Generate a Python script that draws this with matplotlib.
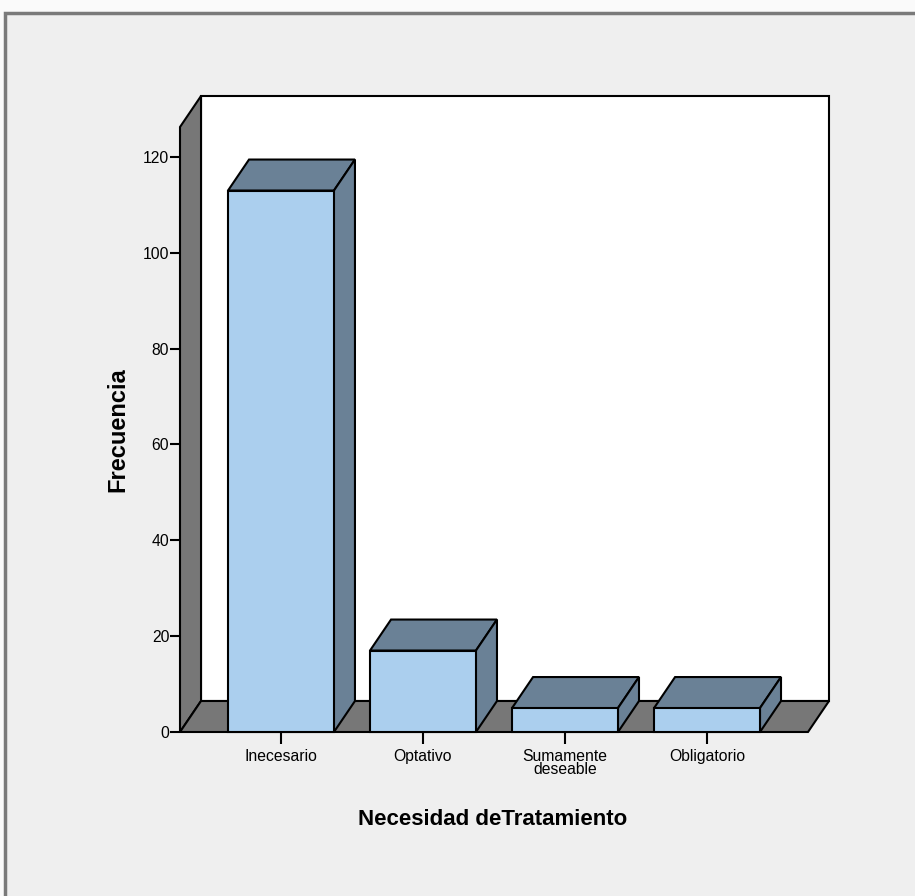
import numpy as np
import matplotlib.pyplot as plt
from matplotlib import font_manager
from matplotlib.patches import Rectangle, Polygon

# Datos
categorias = ["Inecesario", "Optativo", "Sumamente\ndeseable", "Obligatorio"]
frecuencias = [113, 17, 5, 5]
yticks = [0, 20, 40, 60, 80, 100, 120]

# fuente estrecha si existe, si no la normal con tamaños menores
familias = {f.name for f in font_manager.fontManager.ttflist}
if "Liberation Sans Narrow" in familias:
    plt.rcParams["font.family"] = ["Liberation Sans Narrow", "DejaVu Sans"]
    t_ticks, t_xlab, t_ylab = 13, 19, 19
else:
    plt.rcParams["font.family"] = ["Liberation Sans", "DejaVu Sans"]
    t_ticks, t_xlab, t_ylab = 11.3, 16, 17

W, H = 915, 896
fig = plt.figure(figsize=(W / 100, H / 100), dpi=100, facecolor="#fafafa")

# marco gris del visor
fig.patches.append(Rectangle((5 / W, -0.02), 1.0, (H - 13) / H + 0.02,
                             transform=fig.transFigure, facecolor="#efefef",
                             edgecolor="#7a7a7a", linewidth=2.5, zorder=-10))

ax = fig.add_axes([180 / W, (H - 732) / H, 628 / W, 605 / H])
ax.set_zorder(5)
x0, x1 = -0.711, len(categorias) - 1 + 0.711
ytop = 605 / 4.7917
ax.set_xlim(x0, x1)
ax.set_ylim(0, ytop)
ax.patch.set_visible(False)
for s in ax.spines.values():
    s.set_visible(False)

# profundidad del efecto 3D
dx, dy = 0.148, 6.47
gris = "#777777"
frente = "#abcfee"
lado = "#6a8196"
borde = dict(edgecolor="black", linewidth=1.5, clip_on=False)

# paredes y suelo
ax.add_patch(Rectangle((x0 + dx, dy), x1 - x0, ytop, facecolor="white", zorder=1, **borde))
ax.add_patch(Polygon([(x0, 0), (x0, ytop), (x0 + dx, ytop + dy), (x0 + dx, dy)],
                     facecolor=gris, zorder=2, **borde))
ax.add_patch(Polygon([(x0, 0), (x1, 0), (x1 + dx, dy), (x0 + dx, dy)],
                     facecolor=gris, zorder=2, **borde))

# barras 3D
ancho = 0.746
for i, v in enumerate(frecuencias):
    a, b = i - ancho / 2, i + ancho / 2
    ax.add_patch(Polygon([(a, v), (b, v), (b + dx, v + dy), (a + dx, v + dy)],
                         facecolor=lado, zorder=3, **borde))
    ax.add_patch(Polygon([(b, 0), (b + dx, dy), (b + dx, v + dy), (b, v)],
                         facecolor=lado, zorder=3, **borde))
    ax.add_patch(Rectangle((a, 0), ancho, v, facecolor=frente, zorder=4, **borde))

ax.set_xticks(range(len(categorias)))
ax.set_xticklabels(categorias, fontsize=t_ticks, linespacing=0.85)
ax.set_yticks(yticks)
ax.set_yticklabels([str(t) for t in yticks], fontsize=t_ticks)
ax.tick_params(axis="x", length=8.6, width=1.5, pad=3.5)
ax.tick_params(axis="y", length=7.2, width=1.5, pad=0.5)

ax.text(-62 / 628, 0.499, "Frecuencia", transform=ax.transAxes, rotation=90,
        fontsize=t_ylab, fontweight="bold", ha="center", va="center")
ax.text((493 - 180) / 628, (732 - 819) / 605, "Necesidad deTratamiento",
        transform=ax.transAxes, fontsize=t_xlab, fontweight="bold",
        ha="center", va="center")

fig.savefig("out.png", dpi=100, facecolor=fig.get_facecolor())
